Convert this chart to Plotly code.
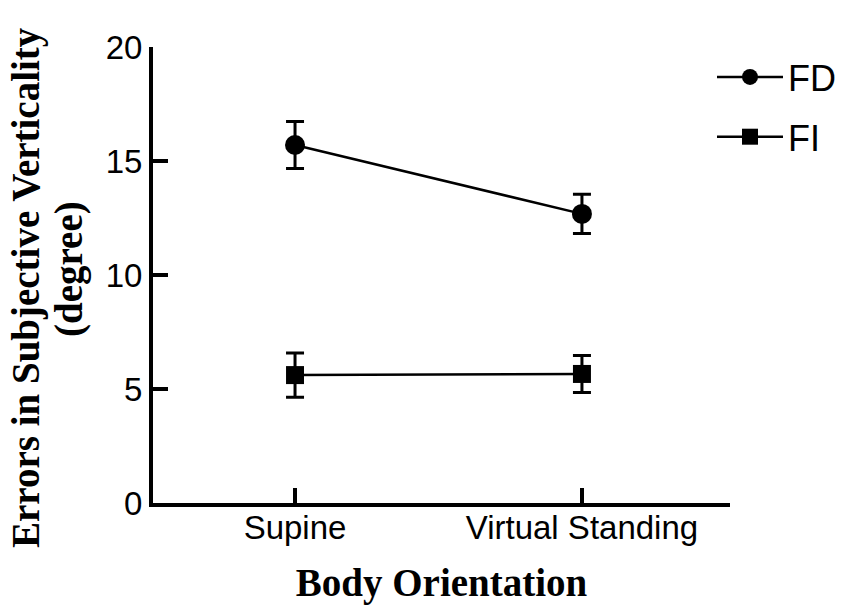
import plotly.graph_objects as go

categories = ["Supine", "Virtual Standing"]
fd_mean = [15.70, 12.68]
fd_err = [1.03, 0.86]
fi_mean = [5.61, 5.66]
fi_err = [0.97, 0.81]
y_ticks = [0, 5, 10, 15, 20]

fig = go.Figure()
fig.add_trace(go.Scatter(
    x=categories, y=fd_mean, name="FD", legendgroup="FD",
    mode="lines+markers",
    line=dict(color="black", width=2.5),
    marker=dict(symbol="circle", size=20, color="black"),
    error_y=dict(type="data", array=fd_err, visible=True, color="black", thickness=3, width=9),
))
fig.add_trace(go.Scatter(
    x=categories, y=fi_mean, name="FI", legendgroup="FI",
    mode="lines+markers",
    line=dict(color="black", width=2.5),
    marker=dict(symbol="square", size=18, color="black"),
    error_y=dict(type="data", array=fi_err, visible=True, color="black", thickness=3, width=9),
))

title_font = dict(family="Liberation Serif, Times New Roman, serif", size=39, weight="bold", color="black")

fig.update_layout(
    width=847, height=605,
    margin=dict(l=153, r=117, t=47, b=102, autoexpand=False),
    paper_bgcolor="white", plot_bgcolor="white",
    font=dict(family="Arial, Liberation Sans, sans-serif", color="black", size=33),
    legend=dict(
        x=0.9688, y=1.0, xanchor="left", yanchor="top",
        font=dict(size=36, family="Arial, Liberation Sans, sans-serif"),
        tracegroupgap=10, bgcolor="rgba(0,0,0,0)", itemwidth=66,
    ),
    showlegend=True,
    annotations=[
        dict(text="Errors in Subjective Verticality",
             xref="paper", yref="paper", x=-0.2201, y=0.4715,
             xanchor="center", yanchor="middle", textangle=-90, showarrow=False,
             font=title_font),
        dict(text="(degree)",
             xref="paper", yref="paper", x=-0.1455, y=0.5132,
             xanchor="center", yanchor="middle", textangle=-90, showarrow=False,
             font=title_font),
    ],
)
fig.update_xaxes(
    type="category", range=[-0.495, 1.516],
    showline=True, linecolor="black", linewidth=4,
    ticks="inside", ticklen=15, tickwidth=4, tickcolor="black",
    showgrid=False, zeroline=False,
    tickfont=dict(size=33), ticklabelstandoff=-8,
    title=dict(text="Body Orientation", font=dict(family="Liberation Serif, Times New Roman, serif", size=39, weight="bold"), standoff=29),
)
fig.update_yaxes(
    range=[0, 20], tickvals=y_ticks,
    showline=True, linecolor="black", linewidth=4,
    ticks="inside", ticklen=15, tickwidth=4, tickcolor="black",
    showgrid=False, zeroline=False,
    tickfont=dict(size=33),
)

fig.write_html("out.html")
